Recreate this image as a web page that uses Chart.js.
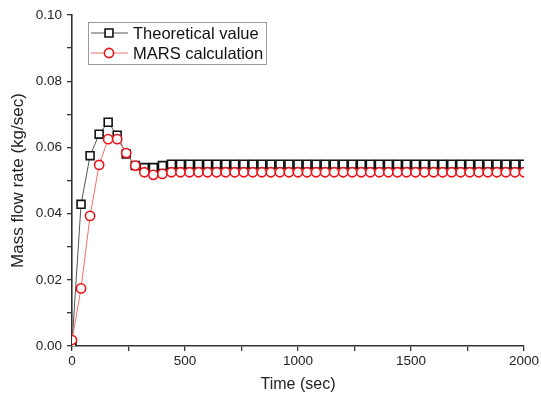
<!DOCTYPE html>
<html>
<head>
<meta charset="utf-8">
<script src="https://cdn.jsdelivr.net/npm/chart.js@4"></script>
<style>
  html, body { margin: 0; padding: 0; background: #fff; }
  #wrap { width: 541px; height: 398px; }
</style>
</head>
<body>
<div id="wrap"><canvas id="chart" width="541" height="398"></canvas></div>
<script>
// time points, every 40 s
const times = [];
for (let t = 0; t <= 2000; t += 40) times.push(t);

// (kg/sec)
const theoretical = [
  0.0005, 0.0428, 0.0575, 0.0640, 0.0676, 0.0637, 0.0580, 0.0545, 0.0539, 0.0539,
  0.0545, 0.0549, 0.0549, 0.0549, 0.0549, 0.0549, 0.0549, 0.0549, 0.0549, 0.0549,
  0.0549, 0.0549, 0.0549, 0.0549, 0.0549, 0.0549, 0.0549, 0.0549, 0.0549, 0.0549,
  0.0549, 0.0549, 0.0549, 0.0549, 0.0549, 0.0549, 0.0549, 0.0549, 0.0549, 0.0549,
  0.0549, 0.0549, 0.0549, 0.0549, 0.0549, 0.0549, 0.0549, 0.0549, 0.0549, 0.0549,
  0.0549
];
const mars = [
  0.0018, 0.0174, 0.0393, 0.0547, 0.0625, 0.0625, 0.0583, 0.0545, 0.0525, 0.0517,
  0.0520, 0.0525, 0.0525, 0.0525, 0.0525, 0.0525, 0.0525, 0.0525, 0.0525, 0.0525,
  0.0525, 0.0525, 0.0525, 0.0525, 0.0525, 0.0525, 0.0525, 0.0525, 0.0525, 0.0525,
  0.0525, 0.0525, 0.0525, 0.0525, 0.0525, 0.0525, 0.0525, 0.0525, 0.0525, 0.0525,
  0.0525, 0.0525, 0.0525, 0.0525, 0.0525, 0.0525, 0.0525, 0.0525, 0.0525, 0.0525,
  0.0525
];
const seriesNames = ["Theoretical value", "MARS calculation"];
const xTitle = "Time (sec)";
const yTitle = "Mass flow rate (kg/sec)";

const FONT = "'Liberation Sans', Arial, sans-serif";
const AXIS = "#333";

function pts(ys) { return times.map((t, i) => ({ x: t, y: ys[i] })); }

// boxed legend like the original (line + marker + text)
const boxLegend = {
  id: "boxLegend",
  afterDraw(chart) {
    const ctx = chart.ctx;
    const x0 = 88, y0 = 22, w = 178, h = 42;
    ctx.save();
    ctx.strokeStyle = "#999";
    ctx.lineWidth = 1;
    ctx.strokeRect(x0 + 0.5, y0 + 0.5, w, h);
    chart.data.datasets.forEach((ds, i) => {
      const cy = y0 + 11 + i * 20;
      const mx = x0 + 21;
      ctx.strokeStyle = ds.borderColor;
      ctx.lineWidth = 1;
      ctx.beginPath();
      ctx.moveTo(x0 + 3, cy);
      ctx.lineTo(x0 + 40, cy);
      ctx.stroke();
      ctx.fillStyle = "#fff";
      ctx.strokeStyle = ds.pointBorderColor;
      ctx.lineWidth = ds.pointBorderWidth;
      ctx.beginPath();
      if (ds.pointStyle === "rect") {
        const s = Math.SQRT1_2 * ds.pointRadius;
        ctx.rect(mx - s, cy - s, 2 * s, 2 * s);
      } else {
        ctx.arc(mx, cy, ds.pointRadius, 0, Math.PI * 2);
      }
      ctx.fill();
      ctx.stroke();
      ctx.fillStyle = "#111";
      ctx.font = "16.5px " + FONT;
      ctx.textBaseline = "middle";
      ctx.fillText(seriesNames[i], x0 + 45, cy + 1);
    });
    ctx.restore();
  }
};

new Chart(document.getElementById("chart"), {
  type: "line",
  data: {
    datasets: [
      {
        label: seriesNames[0],
        data: pts(theoretical),
        borderColor: "#555",
        borderWidth: 1,
        pointStyle: "rect",
        pointRadius: 5.6,
        pointBorderWidth: 1.6,
        pointBorderColor: "#111",
        pointBackgroundColor: "#fff",
        clip: 0,
        order: 2
      },
      {
        label: seriesNames[1],
        data: pts(mars),
        borderColor: "#f07070",
        borderWidth: 1,
        pointStyle: "circle",
        pointRadius: 4.6,
        pointBorderWidth: 1.6,
        pointBorderColor: "#e8141a",
        pointBackgroundColor: "#fff",
        clip: 0,
        order: 1
      }
    ]
  },
  options: {
    responsive: false,
    animation: false,
    layout: { padding: { top: 15, right: 13, left: 0, bottom: 0 } },
    plugins: { legend: { display: false }, tooltip: { enabled: false } },
    scales: {
      x: {
        type: "linear",
        min: 0, max: 2000,
        afterFit(s) { s.height = 52; },
        ticks: {
          stepSize: 250,
          autoSkip: false,
          maxRotation: 0,
          padding: 2,
          color: "#222",
          font: { family: FONT, size: 13.5 },
          callback: v => (v % 500 === 0 ? String(v) : "")
        },
        grid: { drawOnChartArea: false, tickLength: 5, color: AXIS, lineWidth: 1.3 },
        border: { color: AXIS, width: 1.6 },
        title: { display: true, text: xTitle, color: "#222", font: { family: FONT, size: 16 }, padding: { top: 5 } }
      },
      y: {
        min: 0, max: 0.1,
        afterFit(s) { s.width = 72; },
        ticks: {
          stepSize: 0.01,
          autoSkip: false,
          padding: 5,
          color: "#222",
          font: { family: FONT, size: 13.5 },
          callback: v => (Math.round(v * 100) % 2 === 0 ? v.toFixed(2) : "")
        },
        grid: { drawOnChartArea: false, tickLength: 5, color: AXIS, lineWidth: 1.3 },
        border: { color: AXIS, width: 1.6 },
        title: { display: true, text: yTitle, color: "#222", font: { family: FONT, size: 17 }, padding: { top: 8, bottom: 2 } }
      }
    }
  },
  plugins: [boxLegend]
});
</script>
</body>
</html>
